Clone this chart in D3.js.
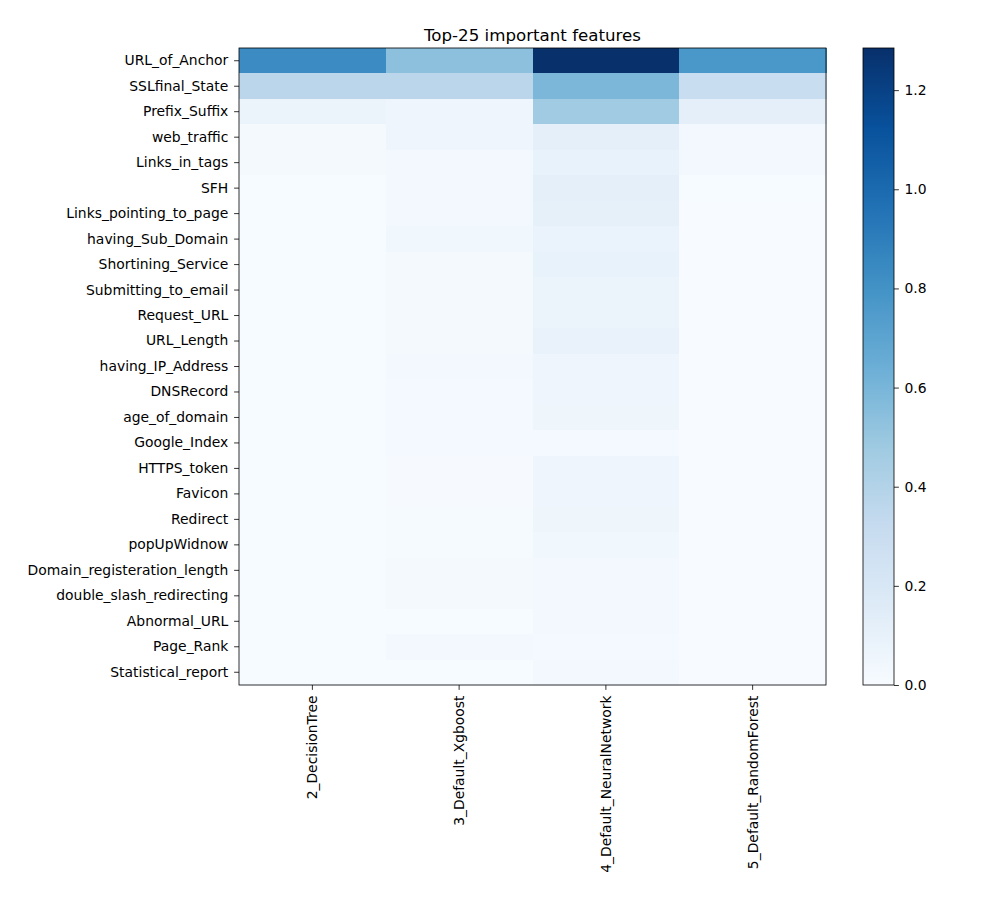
<!DOCTYPE html>
<html><head><meta charset="utf-8">
<script src="https://cdn.jsdelivr.net/npm/d3@7"></script>
<style>body{margin:0;background:#fff}svg{display:block}text{font-family:"DejaVu Sans",sans-serif;fill:#000}</style>
</head><body>
<script>
const features = ["URL_of_Anchor","SSLfinal_State","Prefix_Suffix","web_traffic","Links_in_tags","SFH","Links_pointing_to_page","having_Sub_Domain","Shortining_Service","Submitting_to_email","Request_URL","URL_Length","having_IP_Address","DNSRecord","age_of_domain","Google_Index","HTTPS_token","Favicon","Redirect","popUpWidnow","Domain_registeration_length","double_slash_redirecting","Abnormal_URL","Page_Rank","Statistical_report"];
const models = ["2_DecisionTree","3_Default_Xgboost","4_Default_NeuralNetwork","5_Default_RandomForest"];
const decisionTree = [0.83,0.365,0.075,0.02,0.02,0.004,0.004,0.004,0.004,0.004,0.004,0.004,0.004,0.004,0.004,0.004,0.004,0.004,0.004,0.004,0.004,0.004,0.004,0.004,0.004];
const xgboost = [0.54,0.365,0.06,0.06,0.03,0.035,0.035,0.045,0.02,0.02,0.02,0.02,0.035,0.025,0.025,0.025,0.006,0.006,0.012,0.012,0.018,0.018,0.004,0.03,0.004];
const neuralNetwork = [1.285,0.59,0.47,0.125,0.095,0.12,0.115,0.085,0.095,0.08,0.08,0.09,0.06,0.06,0.055,0.025,0.06,0.06,0.055,0.045,0.03,0.03,0.03,0.025,0.035];
const randomForest = [0.77,0.305,0.125,0.035,0.03,0.004,0.003,0.003,0.003,0.003,0.003,0.003,0.003,0.003,0.003,0.003,0.003,0.003,0.003,0.003,0.003,0.003,0.003,0.003,0.003];
const colorbarTicks = [0,0.2,0.4,0.6,0.8,1.0,1.2];
const title = "Top-25 important features";

const seriesList = [decisionTree, xgboost, neuralNetwork, randomForest];
const cells = [];
features.forEach((f,i)=>models.forEach((m,j)=>cells.push({f,m,v:seriesList[j][i]})));
const vmax = d3.max(cells,d=>d.v);
const blues = ["#f7fbff","#deebf7","#c6dbef","#9ecae1","#6baed6","#4292c6","#2171b5","#08519c","#08306b"];
const color = d3.scaleLinear().domain(blues.map((c,i)=>vmax*i/8)).range(blues).clamp(true);

const W=1000,H=900;
const svg=d3.select("body").append("svg").attr("width",W).attr("height",H);
const L=239,R=826,T=48,B=685;
const x=d3.scaleBand().domain(models).range([L,R]);
const y=d3.scaleBand().domain(features).range([T,B]);

svg.append("g").selectAll("rect").data(cells).join("rect")
  .attr("x",d=>x(d.m)).attr("y",d=>y(d.f))
  .attr("width",x.bandwidth()+0.5).attr("height",y.bandwidth()+0.5)
  .attr("fill",d=>color(d.v)).attr("shape-rendering","crispEdges");

const fs=13.9;
const yAxis=svg.append("g").attr("transform",`translate(${L},0)`).call(d3.axisLeft(y).tickSize(4.9).tickPadding(5.8));
const xAxis=svg.append("g").attr("transform",`translate(0,${B})`).call(d3.axisBottom(x).tickSize(4.9).tickPadding(3.5));
xAxis.selectAll("text").attr("transform","rotate(-90)").attr("text-anchor","end").attr("x",-10.5).attr("y",0).attr("dy","0.35em");
[yAxis,xAxis].forEach(a=>{a.select(".domain").remove();a.selectAll("text").style("font-size",fs+"px").style("font-family","DejaVu Sans");a.selectAll("line").attr("stroke","#000").attr("stroke-width",0.8);});
svg.append("rect").attr("x",L).attr("y",T).attr("width",R-L).attr("height",B-T).attr("fill","none").attr("stroke","#000").attr("stroke-width",0.8);

svg.append("text").attr("x",(L+R)/2).attr("y",41).attr("text-anchor","middle").style("font-size","16.67px").text(title);

// colorbar
const cbL=863,cbR=894;
const cy=d3.scaleLinear().domain([0,vmax]).range([B,T]);
const defs=svg.append("defs");
const grad=defs.append("linearGradient").attr("id","cb").attr("x1",0).attr("y1",1).attr("x2",0).attr("y2",0);
blues.forEach((c,i)=>grad.append("stop").attr("offset",i/8).attr("stop-color",c));
svg.append("rect").attr("x",cbL).attr("y",T).attr("width",cbR-cbL).attr("height",B-T).attr("fill","url(#cb)");
const cAxis=svg.append("g").attr("transform",`translate(${cbR},0)`).call(d3.axisRight(cy).tickValues(colorbarTicks).tickFormat(d3.format(".1f")).tickSize(4.9).tickPadding(5.5));
cAxis.select(".domain").remove();
cAxis.selectAll("text").style("font-size",fs+"px").style("font-family","DejaVu Sans");
cAxis.selectAll("line").attr("stroke","#000").attr("stroke-width",0.8);
svg.append("rect").attr("x",cbL).attr("y",T).attr("width",cbR-cbL).attr("height",B-T).attr("fill","none").attr("stroke","#000").attr("stroke-width",0.8);
</script>
</body></html>
